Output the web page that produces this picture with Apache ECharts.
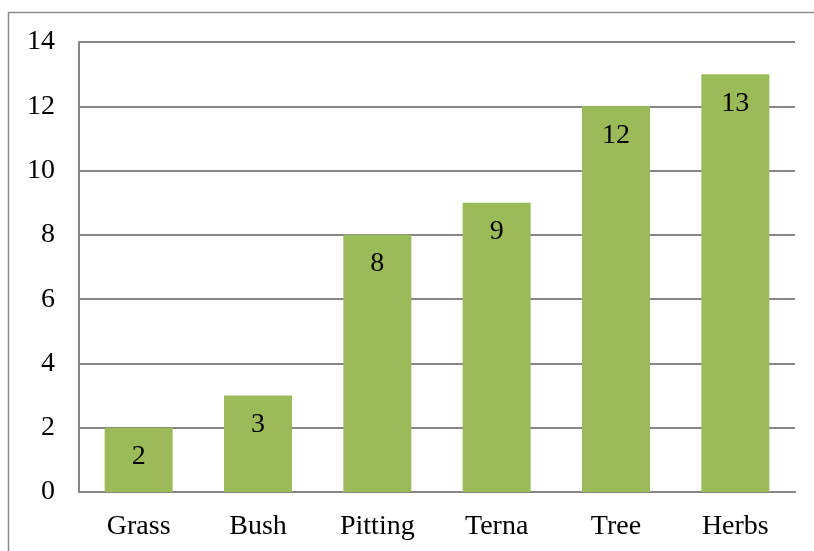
<!DOCTYPE html>
<html><head><meta charset="utf-8">
<script src="https://cdn.jsdelivr.net/npm/echarts@6/dist/echarts.min.js"></script>
<style>html,body{margin:0;padding:0;background:#fff}#c{width:814px;height:551px}</style>
</head><body><div id="c"></div>
<script>
const categories = ['Grass','Bush','Pitting','Terna','Tree','Herbs'];
const values = [2,3,8,9,12,13];
const yTicks = [0,2,4,6,8,10,12,14];
const font = 'Liberation Serif';
const chart = echarts.init(document.getElementById('c'));
chart.setOption({
  animation:false,
  backgroundColor:'#fff',
  graphic:[{type:'rect',shape:{x:8.5,y:12.5,width:900,height:700},style:{fill:'none',stroke:'#8c8c8c',lineWidth:1.5}}],
  grid:{left:79,right:19,top:42,bottom:59,containLabel:false},
  xAxis:{type:'category',data:categories,
    axisLine:{lineStyle:{color:'#868686',width:2}},axisTick:{show:false},
    axisLabel:{color:'#000',fontFamily:font,fontSize:28,margin:21}},
  yAxis:{type:'value',min:0,max:14,interval:2,
    axisLine:{show:true,lineStyle:{color:'#868686',width:2}},axisTick:{show:false},
    splitLine:{lineStyle:{color:'#868686',width:2}},
    axisLabel:{color:'#000',fontFamily:font,fontSize:28,margin:24,
      formatter:v=>yTicks.includes(v)?String(v):''}},
  series:[{type:'bar',data:values,barWidth:68,itemStyle:{color:'#9bbb59'},
    label:{show:true,position:'insideTop',distance:15,color:'#000',fontFamily:font,fontSize:28}}]
});
</script></body></html>
